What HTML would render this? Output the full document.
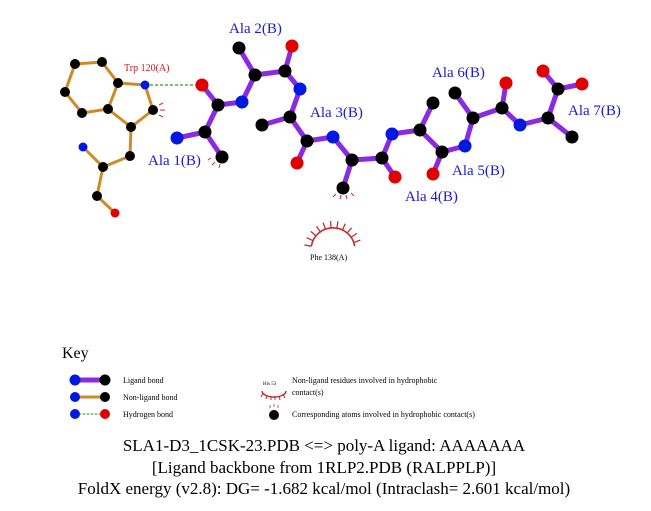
<!DOCTYPE html>
<html><head><style>
html,body{margin:0;padding:0;background:#fff;}
svg{display:block;}
text{font-family:"Liberation Serif",serif;}
</style></head><body>
<svg width="651" height="511" viewBox="0 0 651 511" xmlns="http://www.w3.org/2000/svg">
<g stroke="#d08a25" stroke-width="3" fill="none" stroke-linecap="round">
<polyline points="75,64 102,62 118,83 108,109 82,113 65,92 75,64"/>
<polyline points="118,83 145,85 153,110 131,127 108,109"/>
<polyline points="131,127 130,156 103,167 83,147"/>
<polyline points="103,167 97,196 115,213"/>
</g>
<line x1="145" y1="85" x2="202" y2="85" stroke="#2a9a2a" stroke-width="1.3" stroke-dasharray="3,2"/>
<g stroke="#8a2be2" stroke-width="5" fill="none" stroke-linecap="round">
<line x1="202" y1="85" x2="218" y2="105"/>
<line x1="218" y1="105" x2="242" y2="102"/>
<line x1="218" y1="105" x2="205" y2="132"/>
<line x1="205" y1="132" x2="177" y2="138"/>
<line x1="205" y1="132" x2="222" y2="157"/>
<line x1="242" y1="102" x2="255" y2="75"/>
<line x1="255" y1="75" x2="239" y2="48"/>
<line x1="255" y1="75" x2="285" y2="71"/>
<line x1="285" y1="71" x2="292" y2="46"/>
<line x1="285" y1="71" x2="300" y2="89"/>
<line x1="300" y1="89" x2="290" y2="117"/>
<line x1="290" y1="117" x2="262" y2="125"/>
<line x1="290" y1="117" x2="307" y2="141"/>
<line x1="307" y1="141" x2="297" y2="163"/>
<line x1="307" y1="141" x2="333" y2="137"/>
<line x1="333" y1="137" x2="352" y2="160"/>
<line x1="352" y1="160" x2="343" y2="188"/>
<line x1="352" y1="160" x2="382" y2="158"/>
<line x1="382" y1="158" x2="395" y2="177"/>
<line x1="382" y1="158" x2="392" y2="134"/>
<line x1="392" y1="134" x2="420" y2="130"/>
<line x1="420" y1="130" x2="433" y2="103"/>
<line x1="420" y1="130" x2="442" y2="152"/>
<line x1="442" y1="152" x2="433" y2="174"/>
<line x1="442" y1="152" x2="465" y2="146"/>
<line x1="465" y1="146" x2="473" y2="118"/>
<line x1="473" y1="118" x2="455" y2="93"/>
<line x1="473" y1="118" x2="502" y2="108"/>
<line x1="502" y1="108" x2="506" y2="83"/>
<line x1="502" y1="108" x2="520" y2="125"/>
<line x1="520" y1="125" x2="548" y2="118"/>
<line x1="548" y1="118" x2="572" y2="137"/>
<line x1="548" y1="118" x2="558" y2="89"/>
<line x1="558" y1="89" x2="543" y2="71"/>
<line x1="558" y1="89" x2="582" y2="84"/>
</g>
<g fill="#000">
<circle cx="75" cy="64" r="5"/><circle cx="102" cy="62" r="5"/><circle cx="118" cy="83" r="5"/><circle cx="108" cy="109" r="5"/><circle cx="82" cy="113" r="5"/><circle cx="65" cy="92" r="5"/><circle cx="153" cy="110" r="5"/><circle cx="131" cy="127" r="5"/><circle cx="130" cy="156" r="5"/><circle cx="103" cy="167" r="5"/><circle cx="97" cy="196" r="5"/>
<circle cx="218" cy="105" r="6.5"/><circle cx="205" cy="132" r="6.5"/><circle cx="222" cy="157" r="6.5"/><circle cx="255" cy="75" r="6.5"/><circle cx="239" cy="48" r="6.5"/><circle cx="285" cy="71" r="6.5"/><circle cx="290" cy="117" r="6.5"/><circle cx="262" cy="125" r="6.5"/><circle cx="307" cy="141" r="6.5"/><circle cx="352" cy="160" r="6.5"/><circle cx="343" cy="188" r="6.5"/><circle cx="382" cy="158" r="6.5"/><circle cx="420" cy="130" r="6.5"/><circle cx="433" cy="103" r="6.5"/><circle cx="442" cy="152" r="6.5"/><circle cx="473" cy="118" r="6.5"/><circle cx="455" cy="93" r="6.5"/><circle cx="502" cy="108" r="6.5"/><circle cx="548" cy="118" r="6.5"/><circle cx="572" cy="137" r="6.5"/><circle cx="558" cy="89" r="6.5"/>
</g>
<g fill="#0018e0">
<circle cx="145" cy="85" r="4.5"/><circle cx="83" cy="147" r="4.5"/>
<circle cx="242" cy="102" r="6.5"/><circle cx="177" cy="138" r="6.5"/><circle cx="300" cy="89" r="6.5"/><circle cx="333" cy="137" r="6.5"/><circle cx="392" cy="134" r="6.5"/><circle cx="465" cy="146" r="6.5"/><circle cx="520" cy="125" r="6.5"/>
</g>
<g fill="#e00000">
<circle cx="115" cy="213" r="4.5"/>
<circle cx="202" cy="85" r="6.5"/><circle cx="292" cy="46" r="6.5"/><circle cx="297" cy="163" r="6.5"/><circle cx="395" cy="177" r="6.5"/><circle cx="433" cy="174" r="6.5"/><circle cx="506" cy="83" r="6.5"/><circle cx="543" cy="71" r="6.5"/><circle cx="582" cy="84" r="6.5"/>
</g>
<g stroke="#c03030" stroke-width="1" fill="none">
<path d="M159,105 L163,103 M160,110 L165,110 M159,115 L163,117"/>
<path d="M215,162 L212,165 M220,164 L219,168 M211,158 L208,160"/>
<path d="M336,194 L333,197 M341,195 L340,199 M346,195 L347,199 M351,193 L354,196"/>
<path d="M311.3,246.2 A22,22 0 0 1 354.7,246.2" stroke-width="1.6"/>
<path d="M353.7,242.5 L360.3,240.1 M351,237.4 L356.8,233.4 M347.1,233.1 L351.6,227.8 M342.3,230.1 L345.3,223.7 M336.8,228.3 L338,221.4 M331.1,228.1 L330.5,221.1 M325.5,229.3 L323.1,222.7 M320.4,232 L316.4,226.2 M316.1,235.9 L310.8,231.4 M313.1,240.7 L306.7,237.7 M311.3,246.2 L304.4,245" stroke-width="1.3"/>
</g>
<g fill="#1a1ad0" font-size="15">
<text x="229" y="33">Ala 2(B)</text>
<text x="148" y="165">Ala 1(B)</text>
<text x="310" y="117">Ala 3(B)</text>
<text x="405" y="201">Ala 4(B)</text>
<text x="452" y="175">Ala 5(B)</text>
<text x="432" y="77">Ala 6(B)</text>
<text x="568" y="115">Ala 7(B)</text>
</g>
<text x="124" y="71" font-size="10" fill="#c02020">Trp 120(A)</text>
<text x="310" y="260" font-size="8" fill="#000">Phe 138(A)</text>
<text x="62" y="358" font-size="16">Key</text>
<g stroke-linecap="round">
<line x1="75" y1="380" x2="105" y2="380" stroke="#8a2be2" stroke-width="5"/>
<circle cx="75" cy="380" r="5.5" fill="#0018e0"/><circle cx="105" cy="380" r="5.5" fill="#000"/>
<line x1="75" y1="397" x2="105" y2="397" stroke="#d08a25" stroke-width="3"/>
<circle cx="75" cy="397" r="5" fill="#0018e0"/><circle cx="105" cy="397" r="5" fill="#000"/>
<line x1="75" y1="414" x2="105" y2="414" stroke="#2a9a2a" stroke-width="1" stroke-dasharray="2,2"/>
<circle cx="75" cy="414" r="5" fill="#0018e0"/><circle cx="105" cy="414" r="5" fill="#e00000"/>
<circle cx="274" cy="415" r="5" fill="#000"/>
</g>
<path d="M262,391 A12,6 0 0 0 286,391" stroke="#c03030" stroke-width="1.5" fill="none"/>
<path d="M263,393 L261,397 M267,395 L266,399 M271,396 L271,400 M275,396 L275,400 M279,396 L280,400 M283,394 L285,398" stroke="#c03030" stroke-width="1"/>
<path d="M270,408 L270,405 M274,407 L274,404 M278,408 L278,405" stroke="#c03030" stroke-width="0.8"/>
<text x="263" y="385" font-size="5">His 53</text>
<g font-size="8" fill="#000">
<text x="123" y="383">Ligand bond</text>
<text x="123" y="400">Non-ligand bond</text>
<text x="123" y="417">Hydrogen bond</text>
<text x="292" y="383">Non-ligand residues involved in hydrophobic</text>
<text x="292" y="395">contact(s)</text>
<text x="292" y="417">Corresponding atoms involved in hydrophobic contact(s)</text>
</g>
<g font-size="17" text-anchor="middle" fill="#000">
<text x="324" y="451">SLA1-D3_1CSK-23.PDB &lt;=&gt; poly-A ligand: AAAAAAA</text>
<text x="324" y="473">[Ligand backbone from 1RLP2.PDB (RALPPLP)]</text>
<text x="324" y="494">FoldX energy (v2.8): DG= -1.682 kcal/mol (Intraclash= 2.601 kcal/mol)</text>
</g>
</svg>
</body></html>
